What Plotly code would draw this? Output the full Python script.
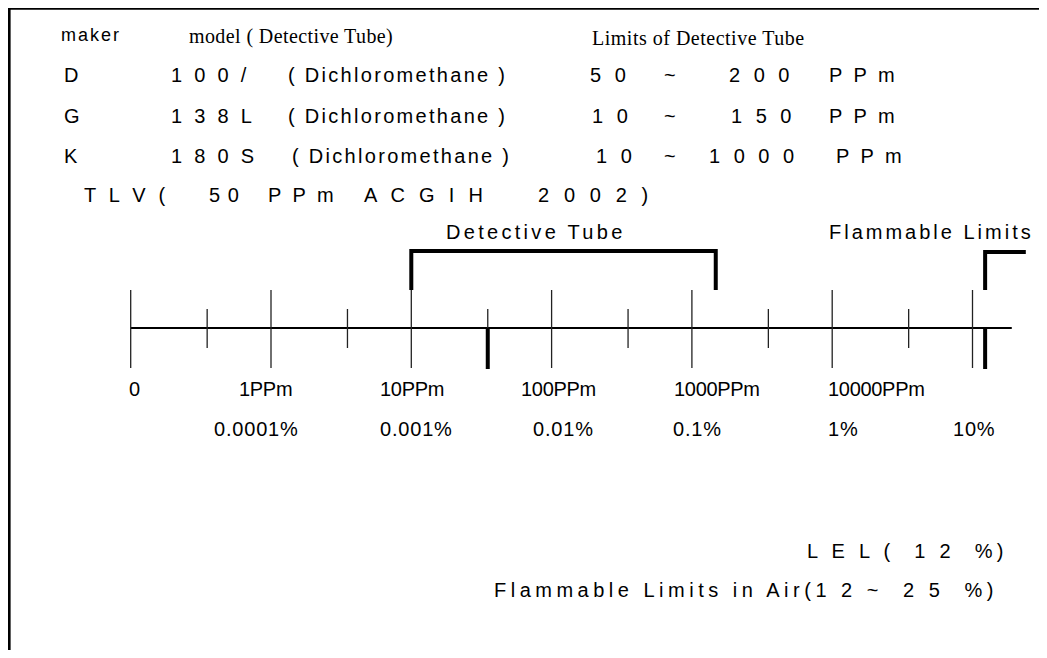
import plotly.graph_objects as go

# page body keeps an 8px margin; the figure starts at (8, 8) and runs to the window edge
OFF = 8
FW, FH = 1039, 642
SANS = "Liberation Sans, Arial, sans-serif"
SERIF = "Liberation Serif, Times New Roman, serif"

# scale positions in decades (1 ppm = 0, "0" end of the scale = -1)
major_pos = [-1, 0, 1, 2, 3, 4, 5]
minor_pos = [-0.455, 0.545, 1.545, 2.545, 3.545, 4.545]
ppm_labels = ["0", "1PPm", "10PPm", "100PPm", "1000PPm", "10000PPm"]
pct_labels = ["0.0001%", "0.001%", "0.01%", "0.1%", "1%", "10%"]
tlv_pos = 1.545           # TLV 50 ppm
lel_pos = 5.09            # LEL 12 %
tube_range = [1.0, 3.17]  # detective tube coverage
flam_range = [5.09, 5.38]
scale_end = 5.28

makers = ["D", "G", "K"]
models = ["1 0 0 /", "1 3 8 L", "1 8 0 S"]
gas = "( Dichloromethane )"
low = ["5 0", "1 0", "1 0"]
high = ["2 0 0", "1 5 0", "1 0 0 0"]
tlv_parts = ["T L V (", "5 0", "P P m", "A C G I H", "2 0 0 2 )"]

# screen mapping of the scale: 1 ppm at x=271, 140.3 px per decade
X0, DEC = 271.0, 140.3
x_range = [(OFF - X0) / DEC, (OFF + FW - X0) / DEC]

fig = go.Figure()


def seg(xs, ys, width, color="black"):
    fig.add_trace(go.Scatter(x=xs, y=ys, mode="lines", hoverinfo="skip", cliponaxis=False,
                             line=dict(color=color, width=width), showlegend=False))


# page frame (top and left edges only)
seg([x_range[0], x_range[1]], [8.6, 8.6], 2.5)
seg([x_range[0] + 0.008, x_range[0] + 0.008], [8, OFF + FH], 3)

# main scale line
seg([major_pos[0], scale_end], [328, 328], 2)
for p in major_pos:
    seg([p, p], [290, 368], 1.3, "#222")
for p in minor_pos:
    seg([p, p], [309, 348], 1.3, "#222")
# TLV and LEL markers
seg([tlv_pos, tlv_pos], [328, 369], 4)
seg([lel_pos, lel_pos], [328, 369], 4)
# detective tube bracket
seg([tube_range[0], tube_range[0], tube_range[1], tube_range[1]], [290, 251, 251, 290], 4)
# flammable limits bracket
seg([flam_range[0], flam_range[0], flam_range[1]], [290, 252, 252], 4)

ann = []


def txt(s, x, y, size=20, ls=0, family=SANS):
    if ls:
        s = f'<span style="letter-spacing:{ls}px">{s}</span>'
    ann.append(dict(text=s, x=(x - OFF) / FW, y=y, xref="paper", yref="y",
                    xanchor="left", yanchor="middle", showarrow=False, borderpad=0,
                    font=dict(family=family, size=size, color="black")))


txt("maker", 60, 35, 18, 2)
txt("model ( Detective Tube)", 188, 36, 20, 0.4, SERIF)
txt("Limits of Detective Tube", 591, 38, 20, 0.5, SERIF)

row_y = [75, 116, 156]
gas_x = [287, 287, 291]
low_x = [589, 591, 595]
high_x = [728, 730, 708]
pp_x = [828, 828, 835]
for i in range(3):
    y = row_y[i]
    txt(makers[i], 63, y)
    txt(models[i], 170, y, 20, 3.3)
    txt(gas, gas_x[i], y, 20, 2.3)
    txt(low[i], low_x[i], y, 20, 4)
    txt("~", 663, y, 20)
    txt(high[i], high_x[i], y, 20, 4)
    txt("P P m", pp_x[i], y, 20, 3)

tlv_x = [83, 208, 267, 363, 537]
tlv_ls = [3.7, 1, 3, 4.3, 4.6]
for s, x, l in zip(tlv_parts, tlv_x, tlv_ls):
    txt(s, x, 195, 20, l)

txt("Detective Tube", 445, 232, 20, 3.3)
txt("Flammable Limits", 828, 232, 20, 3)

ppm_x = [128, 238, 379, 520, 673, 827]
pct_x = [213, 379, 532, 672, 827, 952]
for s, x in zip(ppm_labels, ppm_x):
    txt(s, x, 389, 20, -0.3)
for s, x in zip(pct_labels, pct_x):
    txt(s, x, 429, 20, 0.8)

txt("L E L (&nbsp; 1 2&nbsp; %)", 806, 551, 20, 4.3)
txt("Flammable Limits in Air(1 2 ~&nbsp; 2 5&nbsp; %)", 493, 590, 20, 4.5)

fig.update_layout(
    width=FW, height=FH,
    margin=dict(l=0, r=0, t=0, b=0),
    paper_bgcolor="white", plot_bgcolor="white",
    xaxis=dict(range=x_range, visible=False, fixedrange=True),
    yaxis=dict(range=[OFF + FH, OFF], visible=False, fixedrange=True),
    annotations=ann,
)

fig.write_html("out.html")
